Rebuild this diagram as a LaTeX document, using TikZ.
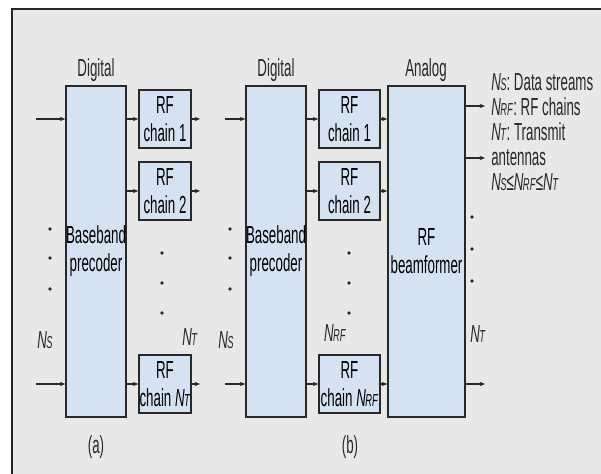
\documentclass[tikz,border=0pt]{standalone}
\usepackage{fontspec}
\setmainfont{Liberation Sans}[FakeStretch=0.54]
\usetikzlibrary{arrows.meta,positioning}
\definecolor{bggray}{RGB}{232,232,232}
\definecolor{boxblue}{RGB}{212,226,242}
\definecolor{edge}{RGB}{40,40,40}
\newcommand{\Nsub}[1]{\textit{N\kern-0.4pt{\fontsize{13}{13}\selectfont #1}}}
\tikzset{
  blk/.style={draw=edge, line width=1.1pt, fill=boxblue, align=center, inner sep=0pt, font=\fontsize{18.5}{21}\selectfont},
  sig/.style={draw=edge, line width=0.9pt, -{Stealth[length=4pt,width=3.2pt]}},
  lbl/.style={font=\fontsize{18.5}{21}\selectfont, inner sep=0pt, text=edge},
}

\begin{document}
\begin{tikzpicture}[x=0.75pt,y=0.75pt,yscale=-1,xscale=1]
\useasboundingbox (0,0) rectangle (601,474);

% frame
\fill[white] (0,0) rectangle (601,474);
\fill[bggray] (12,10) rectangle (601,474);
\draw[line width=2.2pt, black!85] (11,9) -- (601,9);
\draw[line width=1.4pt, black!85] (12,9) -- (12,474);

%% (a) fully digital
\node[blk, minimum width=45pt, minimum height=248.25pt] (bbA) at (96,251.5) {Baseband\\precoder};
\node[blk, minimum width=39pt, minimum height=43.5pt] (chainA1) at (165,119) {RF\\chain 1};
\node[blk, minimum width=39pt, minimum height=43.5pt] (chainA2) at (165,191) {RF\\chain 2};
\node[blk, minimum width=39pt, minimum height=43.5pt] (chainAT) at (165,384) {RF\\chain \Nsub{T}};

\coordinate (inA1) at (36,119);
\coordinate (inAS) at (36,384);
\coordinate (outA1) at (200,119);
\coordinate (outA2) at (200,191);
\coordinate (outAT) at (200,384);

\draw[sig] (inA1) -- (bbA.west |- inA1);
\draw[sig] (inAS) -- (bbA.west |- inAS);
\foreach \c in {chainA1,chainA2,chainAT}
  \draw[sig] (bbA.east |- \c.west) -- (\c.west);
\draw[sig] (chainA1.east) -- (outA1);
\draw[sig] (chainA2.east) -- (outA2);
\draw[sig] (chainAT.east) -- (outAT);

% dots
\foreach \y in {229,258,289} \fill[edge] (50,\y) circle (1.4pt);
\foreach \y in {253,283,313} \fill[edge] (162,\y) circle (1.4pt);

% Text Node
\node[lbl] (digA) at (96,70) {Digital};
\node[lbl] (nsA) at (45,340) {\Nsub{S}};
\node[lbl] (ntA) at (190,337) {\Nsub{T}};
\node[lbl] (capA) at (96,447) {(a)};

%% (b) hybrid
\node[blk, minimum width=45pt, minimum height=248.25pt] (bbB) at (276,251.5) {Baseband\\precoder};
\node[blk, minimum width=45.75pt, minimum height=43.5pt] (chainB1) at (349.5,119) {RF\\chain 1};
\node[blk, minimum width=45.75pt, minimum height=43.5pt] (chainB2) at (349.5,191) {RF\\chain 2};
\node[blk, minimum width=45.75pt, minimum height=43.5pt] (chainBR) at (349.5,384) {RF\\chain \Nsub{RF}};
\node[blk, minimum width=57.75pt, minimum height=248.25pt] (bf) at (426.5,251.5) {RF\\beamformer};

\coordinate (inB1) at (225,119);
\coordinate (inBS) at (225,384);
\coordinate (outB1) at (485,106);
\coordinate (outB2) at (485,158);
\coordinate (outBT) at (485,384);

\draw[sig] (inB1) -- (bbB.west |- inB1);
\draw[sig] (inBS) -- (bbB.west |- inBS);
\foreach \c in {chainB1,chainB2,chainBR} {
  \draw[sig] (bbB.east |- \c.west) -- (\c.west);
  \draw[sig] (\c.east) -- (bf.west |- \c.east);
}
\foreach \o in {outB1,outB2,outBT}
  \draw[sig] (bf.east |- \o) -- (\o);

% dots
\foreach \y in {229,258,289} \fill[edge] (230,\y) circle (1.4pt);
\foreach \y in {253,283,313} \fill[edge] (349,\y) circle (1.4pt);
\foreach \y in {217,249,281} \fill[edge] (472,\y) circle (1.4pt);

% Text Node
\node[lbl] (digB) at (276,70) {Digital};
\node[lbl] (anaB) at (426,70) {Analog};
\node[lbl] (nsB) at (226,340) {\Nsub{S}};
\node[lbl] (nrfB) at (335,333) {\Nsub{RF}};
\node[lbl] (ntB) at (478,334) {\Nsub{T}};
\node[lbl] (capB) at (350,447) {(b)};

% legend
\node[lbl, anchor=north west, align=left, font=\fontsize{18.5}{18.75}\selectfont] (legend) at (491,73)
  {\Nsub{S}: Data streams\\ \Nsub{RF}: RF chains\\ \Nsub{T}: Transmit\\ antennas\\ \Nsub{S}≤\Nsub{RF}≤\Nsub{T}};

\end{tikzpicture}
\end{document}
